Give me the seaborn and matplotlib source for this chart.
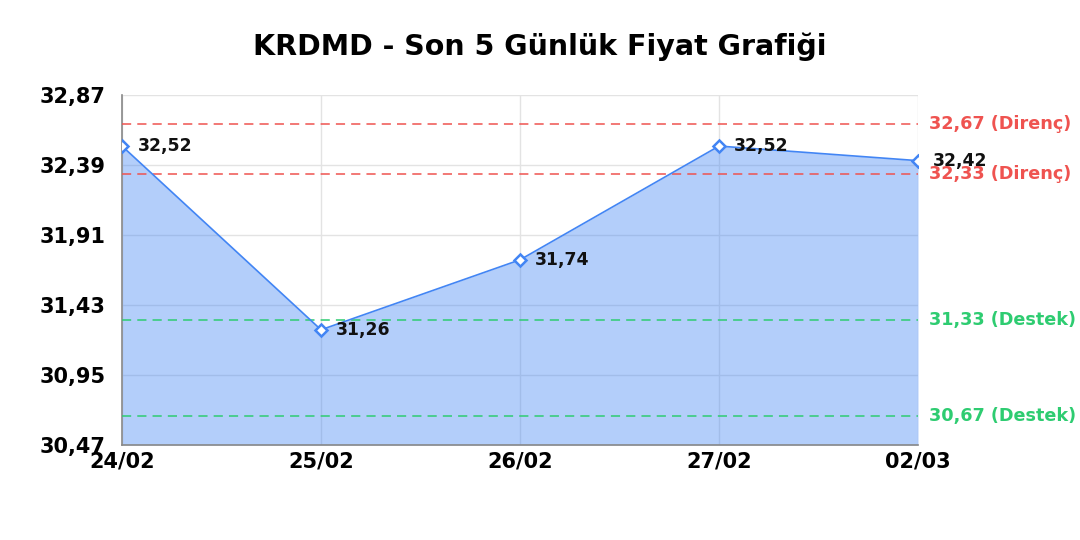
import numpy as np
import pandas as pd
import seaborn as sns
import matplotlib.pyplot as plt

dates = ['24/02', '25/02', '26/02', '27/02', '02/03']
prices = [32.52, 31.26, 31.74, 32.52, 32.42]
resistance = [32.67, 32.33]
support = [31.33, 30.67]
yticks = [30.47, 30.95, 31.43, 31.91, 32.39, 32.87]

def tr(v):
    return f'{v:.2f}'.replace('.', ',')

sns.set_style('white')
plt.rcParams['font.family'] = ['DejaVu Sans']
plt.rcParams['text.color'] = 'black'
plt.rcParams['xtick.color'] = 'black'
plt.rcParams['ytick.color'] = 'black'

df = pd.DataFrame({'pos': np.arange(len(dates)), 'price': prices})

fig = plt.figure(figsize=(10.8, 5.4), dpi=100)
ax = fig.add_axes([0.113, 0.176, 0.737, 0.648])

ax.fill_between(df['pos'], df['price'], 30.47, color='#4285f4', alpha=0.4, lw=0, zorder=1)
sns.lineplot(data=df, x='pos', y='price', ax=ax, color='#4285f4', lw=1.2,
             marker='D', markersize=6, markerfacecolor='white',
             markeredgecolor='#4285f4', markeredgewidth=1.8, zorder=4)

for v in resistance:
    ax.axhline(v, color='#ef5350', ls=(0, (6, 4)), lw=1.1, zorder=3)
    ax.annotate(f'{tr(v)} (Direnç)', xy=(1, v), xycoords=('axes fraction', 'data'),
                xytext=(8, 0), textcoords='offset points', ha='left', va='center',
                color='#ef5350', fontsize=12.7, fontweight='bold', annotation_clip=False)
for v in support:
    ax.axhline(v, color='#2ecc71', ls=(0, (6, 4)), lw=1.1, zorder=3)
    ax.annotate(f'{tr(v)} (Destek)', xy=(1, v), xycoords=('axes fraction', 'data'),
                xytext=(8, 0), textcoords='offset points', ha='left', va='center',
                color='#2ecc71', fontsize=12.7, fontweight='bold', annotation_clip=False)

for x, y in zip(df['pos'], df['price']):
    ax.annotate(tr(y), xy=(x, y), xytext=(11, 0), textcoords='offset points',
                ha='left', va='center', fontsize=12.4, fontweight='semibold',
                color='#111111', zorder=5, annotation_clip=False)

ax.set_xlim(0, len(dates) - 1)
ax.set_ylim(yticks[0], yticks[-1])
ax.set_xticks(df['pos'])
ax.set_xticklabels(dates, fontsize=15, fontweight='bold')
ax.set_yticks(yticks)
ax.set_yticklabels([tr(t) for t in yticks], fontsize=15, fontweight='bold')
ax.tick_params(axis='y', length=0, pad=12)
ax.tick_params(axis='x', length=0, pad=5)
ax.grid(True, color='#e3e3e3', lw=1, zorder=0)
ax.set_axisbelow(True)
ax.set_xlabel('')
ax.set_ylabel('')
for s in ['top', 'right']:
    ax.spines[s].set_visible(False)
for s in ['left', 'bottom']:
    ax.spines[s].set_color('#888888')
    ax.spines[s].set_linewidth(1.2)

fig.suptitle('KRDMD - Son 5 Günlük Fiyat Grafiği', fontsize=20.5, fontweight='bold', y=0.94)

fig.savefig('out.png', dpi=100)
